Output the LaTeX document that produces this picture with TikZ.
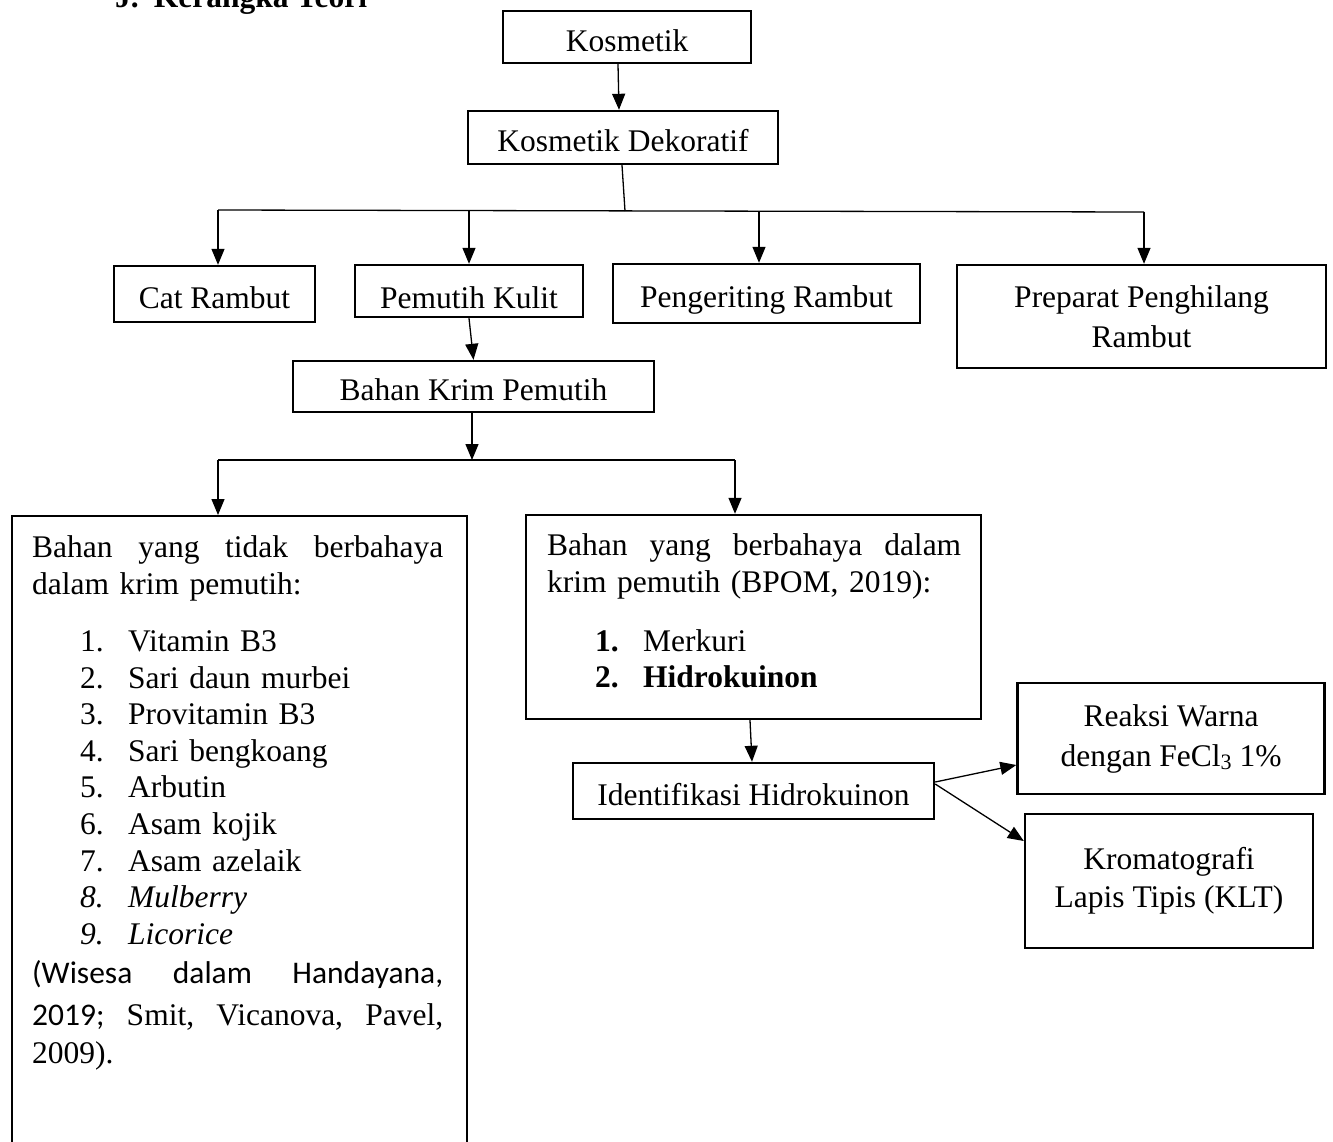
\documentclass[tikz,border=0pt]{standalone}
\usepackage{fontspec}
\setmainfont{Liberation Serif}
\newfontfamily\calibrifont{Carlito}
\usetikzlibrary{arrows.meta}
\begin{document}
\begin{tikzpicture}[x=1pt,y=-1pt,
  font=\fontsize{31.5}{36.6}\selectfont,
  box/.style={draw, line width=2.4pt, inner sep=0pt, text height=28pt, text depth=0pt},
  mbox/.style={draw, line width=2.4pt, inner sep=0pt, align=center},
  frame/.style={draw, line width=2.4pt, inner sep=0pt},
  txt/.style={anchor=north west, inner sep=0pt, align=left},
  conn/.style={line width=1.3pt},
  arr/.style={conn, -{Triangle[length=16pt,width=13pt]}}]
\useasboundingbox (0,0) rectangle (1333,1141);

% title (partly cut at the top, as in the reference)
\node[anchor=base west, inner sep=0pt, font=\fontsize{31.5}{36}\selectfont\bfseries] (title) at (115,7) {J.\hspace{15pt}Kerangka Teori};

% boxes
\node[box, minimum width=248pt, minimum height=52pt] (k) at (627,37) {Kosmetik};
\node[box, minimum width=310pt, minimum height=53pt] (kd) at (623,137.5) {Kosmetik Dekoratif};
\node[box, minimum width=201pt, minimum height=56pt] (cr) at (214.5,294) {Cat Rambut};
\node[box, text height=34pt, minimum width=228pt, minimum height=52pt] (pk) at (469,291) {Pemutih Kulit};
\node[box, minimum width=307pt, minimum height=59pt] (pg) at (766.5,293.5) {Pengeriting Rambut};
\node[mbox, minimum width=369pt, minimum height=103pt] (pp) at (1141.5,316.5) {Preparat Penghilang\\[3.4pt]Rambut};
\node[box, minimum width=361pt, minimum height=51pt] (bkp) at (473.5,386.5) {Bahan Krim Pemutih};
\node[frame, anchor=north west, minimum width=455pt, minimum height=700pt] (lb) at (11,515) {};
\node[frame, minimum width=455pt, minimum height=204pt] (rb) at (753.5,617) {};
\node[box, minimum width=361pt, minimum height=56pt] (ih) at (753.5,791) {Identifikasi Hidrokuinon};
\node[mbox, minimum width=307pt, minimum height=111pt] (rw) at (1171,738.5) {Reaksi Warna\\[3.4pt]dengan FeCl{\fontsize{22}{24}\selectfont\raisebox{-3pt}{3}} 1\%};
\node[mbox, minimum width=288pt, minimum height=134pt] (kl) at (1169,881) {Kromatografi\\[1.4pt]Lapis Tipis (KLT)};

% texts of the two large boxes
\node[txt, text width=411pt] (lbt) at (32,535.5) {%
\leavevmode\hbox to 411pt{Bahan\hfill yang\hfill tidak\hfill berbahaya}\\
dalam krim pemutih:\\[20.8pt]
\hspace*{48pt}\makebox[48pt][l]{1.}Vitamin B3\\
\hspace*{48pt}\makebox[48pt][l]{2.}Sari daun murbei\\
\hspace*{48pt}\makebox[48pt][l]{3.}Provitamin B3\\
\hspace*{48pt}\makebox[48pt][l]{4.}Sari bengkoang\\
\hspace*{48pt}\makebox[48pt][l]{5.}Arbutin\\
\hspace*{48pt}\makebox[48pt][l]{6.}Asam kojik\\
\hspace*{48pt}\makebox[48pt][l]{7.}Asam azelaik\\
\hspace*{48pt}\makebox[48pt][l]{\itshape 8.}\textit{Mulberry}\\
\hspace*{48pt}\makebox[48pt][l]{\itshape 9.}\textit{Licorice}\\[2.6pt]
\leavevmode\hbox to 411pt{\calibrifont (Wisesa\hfill dalam\hfill Handayana,}\\[5.4pt]
\leavevmode\hbox to 411pt{{\calibrifont 2019;}\hfill Smit,\hfill Vicanova,\hfill Pavel,}\\[1.4pt]
2009).};

\node[txt, text width=414pt] (rbt) at (547,533.5) {%
\leavevmode\hbox to 414pt{Bahan\hfill yang\hfill berbahaya\hfill dalam}\\
krim pemutih (BPOM, 2019):\\[22.4pt]
\hspace*{48pt}\makebox[48pt][l]{\bfseries 1.}Merkuri\\
\hspace*{48pt}\makebox[48pt][l]{\bfseries 2.}\textbf{Hidrokuinon}};

% connectors
\draw[arr] ([xshift=-9pt]k.south) -- ([xshift=-4pt]kd.north);
\coordinate (hL) at (218,210);
\coordinate (hM) at (625,211);
\coordinate (hR) at (1144,212);
\coordinate (d2) at (469,210.5);
\coordinate (d3) at (759,211.5);
\draw[conn] ([xshift=-1pt]kd.south) -- (hM);
\draw[conn] (hL) -- (hR);
\draw[arr] (hL) -- (hL |- cr.north);
\draw[arr] (d2) -- (d2 |- pk.north);
\draw[arr] (d3) -- (d3 |- pg.north);
\draw[arr] (hR) -- (hR |- pp.north);
\draw[arr] (pk.south) -- (bkp.north);

\coordinate (b0) at (472,460);
\coordinate (bL) at (218,460);
\coordinate (bR) at (735,460);
\draw[arr] ([xshift=-1.5pt]bkp.south) -- (b0);
\draw[conn] (bL) -- (bR);
\draw[arr] (bL) -- (bL |- lb.north);
\draw[arr] (bR) -- (bR |- rb.north);

\draw[arr] ([xshift=-3.5pt]rb.south) -- ([xshift=-1.5pt]ih.north);
\draw[arr] ([yshift=9pt]ih.east) -- ([yshift=-26.5pt]rw.west);
\draw[arr] ([yshift=7pt]ih.east) -- ([yshift=40pt]kl.west);
\end{tikzpicture}
\end{document}
